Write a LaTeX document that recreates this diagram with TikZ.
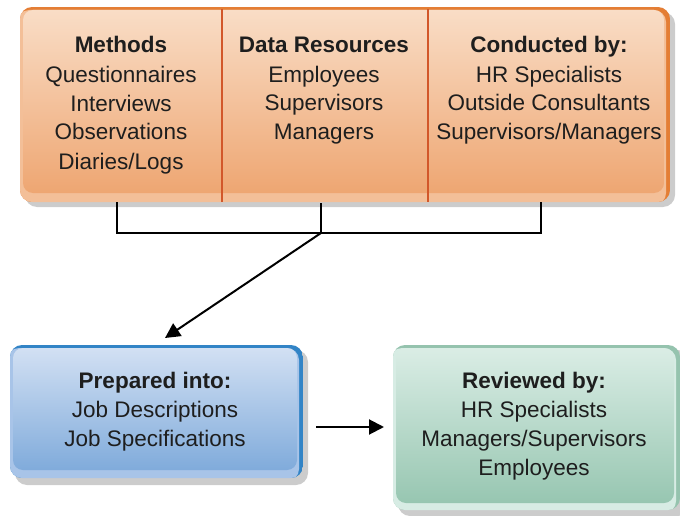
\documentclass[tikz,border=0pt]{standalone}
\usepackage{fontspec}
\setmainfont{Liberation Sans}
\usetikzlibrary{arrows.meta}
\definecolor{shadowgray}{HTML}{CCCCCC}
\definecolor{orim}{HTML}{E47E35}
\definecolor{olight}{HTML}{F3BF98}
\definecolor{otop}{HTML}{F9DDC6}
\definecolor{obot}{HTML}{EEA672}
\definecolor{odiv}{HTML}{D2572A}
\definecolor{brim}{HTML}{3284C6}
\definecolor{blight}{HTML}{A8C4E8}
\definecolor{btop}{HTML}{D2E0F3}
\definecolor{bbot}{HTML}{80ABDB}
\definecolor{grim}{HTML}{95C3AE}
\definecolor{glight}{HTML}{D7ECE4}
\definecolor{gtop}{HTML}{DAEDE5}
\definecolor{gbot}{HTML}{97C6B1}
\definecolor{ink}{HTML}{1E1E1E}
\tikzset{
  txt/.style={align=center, font=\fontsize{22.5pt}{29pt}\selectfont, text=ink, inner sep=0pt, anchor=base},
  conn/.style={draw=black, line width=2pt},
  arr/.style={draw=black, line width=2pt, -{Triangle[length=15pt,width=15pt]}}
}
\begin{document}
\begin{tikzpicture}[x=1pt,y=-1pt]
\useasboundingbox (0,0) rectangle (680,516);
% ---------- orange box
\fill[shadowgray, rounded corners=12pt] (25,12) rectangle (675,207);
\begin{scope}
\clip[rounded corners=12pt] (20,7) rectangle (670,202);
\fill[orim] (20,7) rectangle (670,202);
\fill[olight, rounded corners=12pt] (17,10) rectangle (666,205);
\end{scope}
\shade[rounded corners=10pt, top color=otop, bottom color=obot] (23,10) rectangle (664,193);
\draw[odiv, line width=1.6pt] (222,9) -- (222,202);
\draw[odiv, line width=1.6pt] (428,9) -- (428,202);
\node[txt] (methods) at (121,169) {\textbf{Methods}\\Questionnaires\\Interviews\\Observations\\Diaries/Logs};
\node[txt] (data) at (324,140) {\textbf{Data Resources}\\Employees\\Supervisors\\Managers};
\node[txt] (cond) at (549,140) {\textbf{Conducted by:}\\HR Specialists\\Outside Consultants\\Supervisors/Managers};
% ---------- blue box
\fill[shadowgray, rounded corners=12pt] (15,350) rectangle (308,485);
\begin{scope}
\clip[rounded corners=12pt] (10,345) rectangle (303,478);
\fill[brim] (10,345) rectangle (303,478);
\fill[blight, rounded corners=12pt] (7,348) rectangle (299,481);
\end{scope}
\shade[rounded corners=10pt, top color=btop, bottom color=bbot] (13,348) rectangle (297,470);
\node[txt] (prep) at (155,446) {\textbf{Prepared into:}\\Job Descriptions\\Job Specifications};
% ---------- green box
\fill[shadowgray, rounded corners=12pt] (398,350) rectangle (690,516);
\begin{scope}
\clip[rounded corners=12pt] (393,345) rectangle (680,510);
\fill[grim] (393,345) rectangle (680,510);
\fill[glight, rounded corners=12pt] (390,348) rectangle (676,513);
\end{scope}
\shade[rounded corners=10pt, top color=gtop, bottom color=gbot] (396,348) rectangle (674,503);
\node[txt] (rev) at (534,475) {\textbf{Reviewed by:}\\HR Specialists\\Managers/Supervisors\\Employees};
% ---------- connectors
\coordinate (m0) at (117,203);
\coordinate (d0) at (321,203);
\coordinate (c0) at (541,203);
\coordinate (m1) at (117,233);
\coordinate (d1) at (321,233);
\coordinate (c1) at (541,233);
\coordinate (tipA) at (165,338);
\coordinate (startB) at (316,427);
\coordinate (tipB) at (384,427);
\draw[conn, line cap=rect] (m0) -- (m1) -- (c1) -- (c0);
\draw[conn] (d0) -- (d1);
\draw[arr] (d1) -- (tipA);
\draw[arr] (startB) -- (tipB);
\end{tikzpicture}
\end{document}
